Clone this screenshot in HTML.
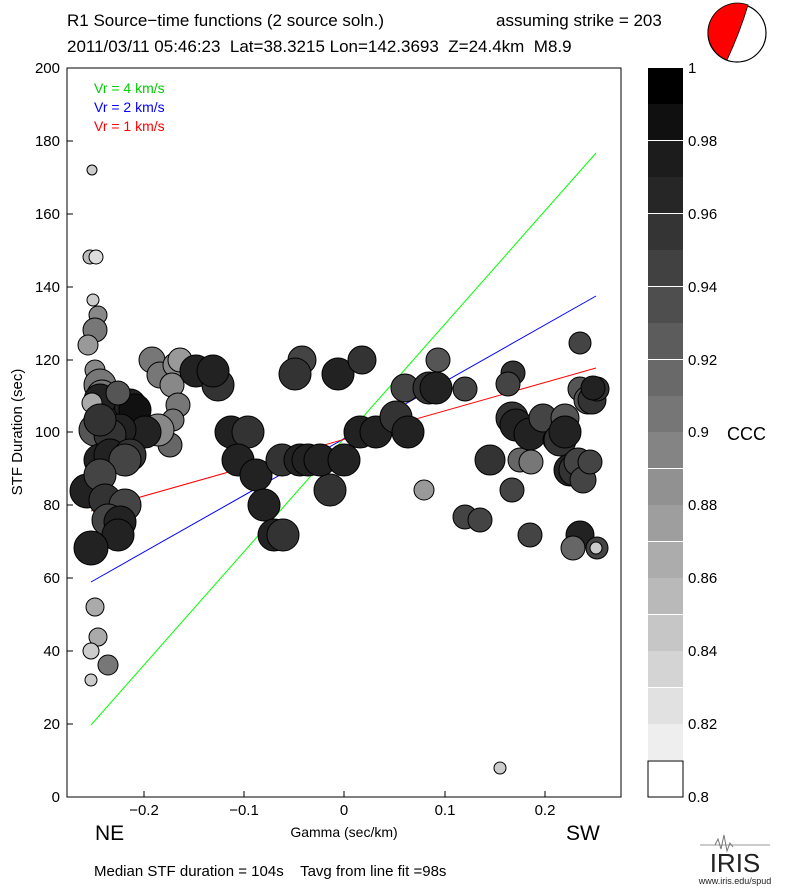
<!DOCTYPE html>
<html><head><meta charset="utf-8"><style>
body{margin:0;background:#fff;}
svg text{font-family:"Liberation Sans",sans-serif;white-space:pre;}
</style></head><body>
<svg width="785" height="887" viewBox="0 0 785 887" xmlns="http://www.w3.org/2000/svg" xml:space="preserve">
<rect width="785" height="887" fill="#fff"/>
<text x="67" y="26" font-size="17">R1 Source−time functions (2 source soln.)</text>
<text x="496" y="26" font-size="17">assuming strike = 203</text>
<text x="67" y="52" font-size="17">2011/03/11 05:46:23  Lat=38.3215 Lon=142.3693  Z=24.4km  M8.9</text>
<circle cx="737" cy="33" r="29" fill="#fff" stroke="#000" stroke-width="1.2"/>
<path d="M748,5 A29,29 0 0 0 727,60 Q740,32 748,5 Z" fill="#f00" stroke="#000" stroke-width="0.8"/>
<rect x="67" y="68" width="554" height="729" fill="none" stroke="#000" stroke-width="1"/>
<g stroke="#000" stroke-width="1">
<line x1="67" y1="797" x2="73" y2="797"/><line x1="67" y1="724" x2="73" y2="724"/><line x1="67" y1="651" x2="73" y2="651"/><line x1="67" y1="578" x2="73" y2="578"/><line x1="67" y1="505" x2="73" y2="505"/><line x1="67" y1="432" x2="73" y2="432"/><line x1="67" y1="360" x2="73" y2="360"/><line x1="67" y1="287" x2="73" y2="287"/><line x1="67" y1="214" x2="73" y2="214"/><line x1="67" y1="141" x2="73" y2="141"/>
<line x1="144" y1="797" x2="144" y2="791"/><line x1="244" y1="797" x2="244" y2="791"/><line x1="344" y1="797" x2="344" y2="791"/><line x1="445" y1="797" x2="445" y2="791"/><line x1="545" y1="797" x2="545" y2="791"/>
</g>
<g font-size="15" text-anchor="end">
<text x="60" y="802">0</text><text x="60" y="729">20</text><text x="60" y="656">40</text><text x="60" y="583">60</text><text x="60" y="510">80</text><text x="60" y="437">100</text><text x="60" y="365">120</text><text x="60" y="292">140</text><text x="60" y="219">160</text><text x="60" y="146">180</text><text x="60" y="73">200</text>
</g>
<g font-size="15" text-anchor="middle">
<text x="144" y="815">−0.2</text><text x="244" y="815">−0.1</text><text x="344" y="815">0</text><text x="445" y="815">0.1</text><text x="545" y="815">0.2</text>
</g>
<text x="22" y="432" font-size="15" text-anchor="middle" transform="rotate(-90 22 432)">STF Duration (sec)</text>
<text x="344" y="837" font-size="14" text-anchor="middle">Gamma (sec/km)</text>
<text x="95" y="840" font-size="21">NE</text>
<text x="566" y="840" font-size="21">SW</text>
<text x="94" y="876" font-size="15">Median STF duration = 104s    Tavg from line fit =98s</text>
<text x="94" y="93" font-size="14" fill="#0c0">Vr = 4 km/s</text>
<text x="94" y="112" font-size="14" fill="#00f">Vr = 2 km/s</text>
<text x="94" y="131" font-size="14" fill="#f00">Vr = 1 km/s</text>
<line x1="91" y1="725" x2="596" y2="153" stroke="#0f0" stroke-width="1"/>
<line x1="91" y1="582" x2="596" y2="296" stroke="#00f" stroke-width="1"/>
<line x1="91" y1="511" x2="596" y2="368" stroke="#f00" stroke-width="1"/>
<g stroke="#000" stroke-width="1">
<circle cx="92" cy="170" r="5" fill="#ccc"/>
<circle cx="90" cy="257" r="7" fill="#bbb"/><circle cx="96" cy="257" r="7" fill="#ddd"/>
<circle cx="93" cy="300" r="6" fill="#ccc"/><circle cx="98" cy="315" r="9" fill="#888"/>
<circle cx="95" cy="330" r="12" fill="#777"/><circle cx="88" cy="345" r="10" fill="#999"/>
<circle cx="95" cy="370" r="10" fill="#888"/>
<circle cx="152" cy="360" r="13" fill="#777"/><circle cx="160" cy="375" r="13" fill="#777"/><circle cx="175" cy="365" r="12" fill="#888"/><circle cx="180" cy="360" r="12" fill="#999"/><circle cx="172" cy="385" r="12" fill="#888"/><circle cx="178" cy="405" r="12" fill="#777"/><circle cx="173" cy="420" r="11" fill="#777"/><circle cx="170" cy="445" r="12" fill="#666"/>
<circle cx="196" cy="371" r="16" fill="#222"/><circle cx="218" cy="385" r="16" fill="#333"/><circle cx="213" cy="371" r="16" fill="#222"/>
<circle cx="100" cy="385" r="16" fill="#777"/><circle cx="102" cy="395" r="15" fill="#777"/><circle cx="113" cy="405" r="16" fill="#333"/><circle cx="130" cy="405" r="16" fill="#222"/><circle cx="135" cy="410" r="16" fill="#111"/><circle cx="100" cy="400" r="16" fill="#222"/><circle cx="118" cy="393" r="12" fill="#555"/><circle cx="92" cy="403" r="10" fill="#aaa"/>
<circle cx="158" cy="430" r="16" fill="#888"/><circle cx="145" cy="432" r="16" fill="#222"/><circle cx="95" cy="430" r="16" fill="#555"/><circle cx="120" cy="430" r="16" fill="#222"/><circle cx="110" cy="435" r="16" fill="#333"/><circle cx="100" cy="420" r="16" fill="#333"/>
<circle cx="100" cy="460" r="16" fill="#222"/><circle cx="110" cy="455" r="16" fill="#222"/><circle cx="130" cy="455" r="16" fill="#333"/><circle cx="125" cy="460" r="16" fill="#444"/>
<circle cx="87" cy="491" r="17" fill="#222"/><circle cx="100" cy="475" r="16" fill="#444"/><circle cx="105" cy="500" r="16" fill="#333"/><circle cx="125" cy="505" r="16" fill="#444"/><circle cx="108" cy="520" r="16" fill="#444"/><circle cx="120" cy="522" r="16" fill="#222"/><circle cx="118" cy="535" r="16" fill="#222"/>
<circle cx="91" cy="548" r="17" fill="#222"/>
<circle cx="95" cy="607" r="9" fill="#aaa"/><circle cx="98" cy="637" r="9" fill="#aaa"/><circle cx="91" cy="651" r="8" fill="#ccc"/><circle cx="108" cy="665" r="10" fill="#777"/><circle cx="91" cy="680" r="6" fill="#ccc"/>
<circle cx="231" cy="432" r="16" fill="#222"/><circle cx="248" cy="432" r="16" fill="#333"/><circle cx="238" cy="460" r="16" fill="#222"/><circle cx="256" cy="475" r="16" fill="#222"/><circle cx="264" cy="505" r="16" fill="#222"/><circle cx="274" cy="535" r="16" fill="#222"/><circle cx="283" cy="535" r="16" fill="#333"/>
<circle cx="282" cy="460" r="16" fill="#333"/><circle cx="300" cy="460" r="16" fill="#222"/><circle cx="308" cy="460" r="16" fill="#222"/><circle cx="330" cy="490" r="16" fill="#333"/><circle cx="320" cy="460" r="16" fill="#222"/><circle cx="344" cy="460" r="16" fill="#222"/>
<circle cx="302" cy="360" r="14" fill="#444"/><circle cx="295" cy="374" r="16" fill="#333"/><circle cx="338" cy="374" r="16" fill="#222"/><circle cx="362" cy="360" r="14" fill="#333"/>
<circle cx="360" cy="432" r="16" fill="#222"/><circle cx="376" cy="432" r="16" fill="#222"/><circle cx="396" cy="417" r="16" fill="#333"/><circle cx="408" cy="432" r="16" fill="#222"/>
<circle cx="405" cy="388" r="14" fill="#444"/><circle cx="429" cy="388" r="16" fill="#333"/><circle cx="436" cy="388" r="16" fill="#222"/><circle cx="438" cy="360" r="12" fill="#555"/><circle cx="424" cy="490" r="10" fill="#999"/><circle cx="465" cy="389" r="12" fill="#444"/>
<circle cx="465" cy="517" r="12" fill="#444"/><circle cx="480" cy="520" r="12" fill="#444"/><circle cx="488" cy="460" r="12" fill="#555"/><circle cx="490" cy="460" r="15" fill="#333"/><circle cx="500" cy="768" r="6" fill="#ccc"/>
<circle cx="513" cy="373" r="12" fill="#333"/><circle cx="512" cy="418" r="16" fill="#333"/><circle cx="512" cy="490" r="12" fill="#444"/><circle cx="520" cy="460" r="12" fill="#666"/><circle cx="516" cy="425" r="16" fill="#222"/><circle cx="531" cy="462" r="12" fill="#777"/><circle cx="530" cy="535" r="12" fill="#444"/><circle cx="530" cy="434" r="16" fill="#222"/>
<circle cx="543" cy="418" r="14" fill="#444"/><circle cx="555" cy="440" r="12" fill="#444"/><circle cx="560" cy="440" r="16" fill="#333"/><circle cx="565" cy="418" r="14" fill="#555"/><circle cx="565" cy="432" r="16" fill="#222"/><circle cx="570" cy="470" r="16" fill="#222"/><circle cx="575" cy="470" r="16" fill="#333"/><circle cx="578" cy="462" r="14" fill="#444"/><circle cx="583" cy="480" r="13" fill="#444"/><circle cx="590" cy="462" r="12" fill="#444"/>
<circle cx="580" cy="343" r="11" fill="#444"/><circle cx="508" cy="384" r="12" fill="#444"/><circle cx="580" cy="389" r="12" fill="#555"/><circle cx="588" cy="400" r="14" fill="#555"/><circle cx="592" cy="400" r="14" fill="#333"/><circle cx="597" cy="389" r="12" fill="#333"/><circle cx="593" cy="388" r="12" fill="#222"/>
<circle cx="580" cy="535" r="14" fill="#222"/><circle cx="573" cy="548" r="12" fill="#666"/><circle cx="597" cy="548" r="11" fill="#444"/><circle cx="596" cy="548" r="6" fill="#ccc"/>
</g>
<g>
<rect x="648" y="761" width="35" height="36" fill="#fff" stroke="#000" stroke-width="1"/>
<rect x="648" y="724" width="35" height="36" fill="#eee"/>
<rect x="648" y="688" width="35" height="36" fill="#e1e1e1"/>
<rect x="648" y="651" width="35" height="36" fill="#d4d4d4"/>
<rect x="648" y="615" width="35" height="36" fill="#c6c6c6"/>
<rect x="648" y="578" width="35" height="36" fill="#b9b9b9"/>
<rect x="648" y="542" width="35" height="36" fill="#acacac"/>
<rect x="648" y="505" width="35" height="36" fill="#9e9e9e"/>
<rect x="648" y="469" width="35" height="36" fill="#919191"/>
<rect x="648" y="432" width="35" height="36" fill="#848484"/>
<rect x="648" y="396" width="35" height="36" fill="#767676"/>
<rect x="648" y="360" width="35" height="36" fill="#696969"/>
<rect x="648" y="323" width="35" height="36" fill="#5c5c5c"/>
<rect x="648" y="287" width="35" height="36" fill="#4e4e4e"/>
<rect x="648" y="250" width="35" height="36" fill="#414141"/>
<rect x="648" y="214" width="35" height="36" fill="#343434"/>
<rect x="648" y="177" width="35" height="36" fill="#262626"/>
<rect x="648" y="141" width="35" height="36" fill="#1c1c1c"/>
<rect x="648" y="104" width="35" height="36" fill="#101010"/>
<rect x="648" y="68" width="35" height="36" fill="#000"/>
</g>
<g font-size="15">
<text x="688" y="73">1</text><text x="688" y="146">0.98</text><text x="688" y="219">0.96</text><text x="688" y="292">0.94</text><text x="688" y="365">0.92</text><text x="688" y="437">0.9</text><text x="688" y="510">0.88</text><text x="688" y="583">0.86</text><text x="688" y="656">0.84</text><text x="688" y="729">0.82</text><text x="688" y="802">0.8</text>
</g>
<text x="727" y="440" font-size="18">CCC</text>
<line x1="700" y1="845" x2="770" y2="845" stroke="#999" stroke-width="1"/>
<path d="M715,845 l3,-6 l3,10 l3,-14 l3,16 l3,-8 l3,4" fill="none" stroke="#777" stroke-width="1"/>
<text x="735" y="872" font-size="26" font-family="Liberation Serif,serif" text-anchor="middle" fill="#222">IRIS</text>
<text x="735" y="884" font-size="9" text-anchor="middle" fill="#222">www.iris.edu/spud</text>
</svg>
</body></html>
